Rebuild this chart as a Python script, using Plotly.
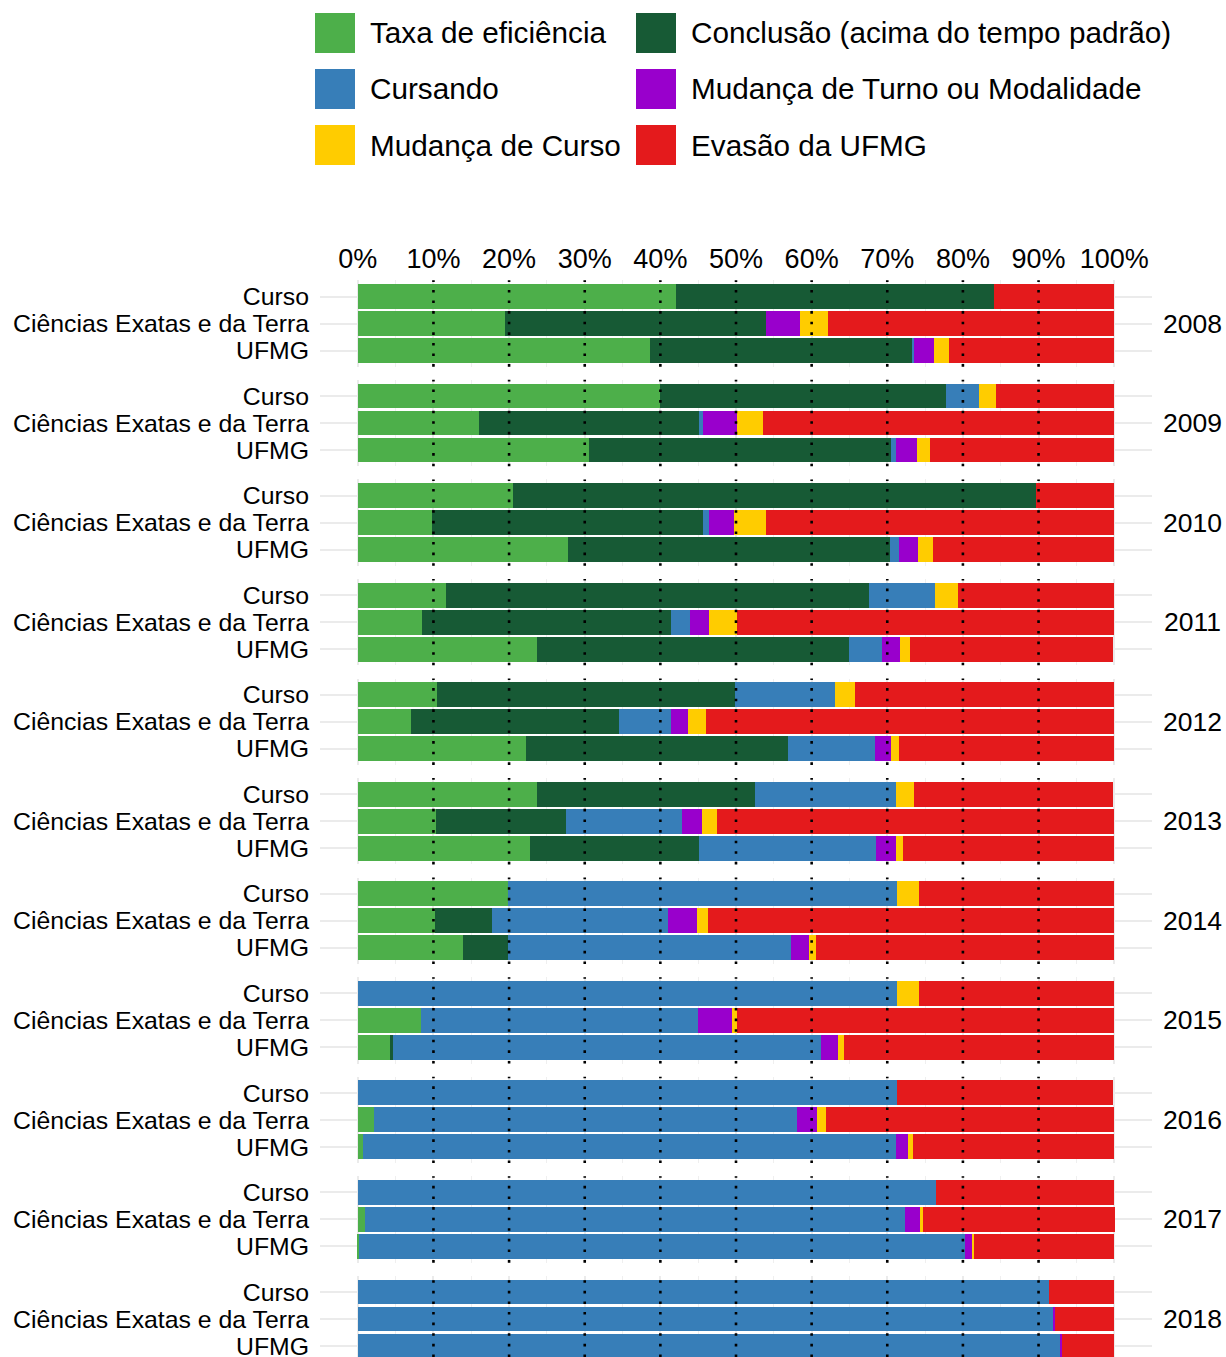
import plotly.graph_objects as go
from plotly.subplots import make_subplots

# ---------------- data ----------------
years = [2008, 2009, 2010, 2011, 2012, 2013, 2014, 2015, 2016, 2017, 2018]
groups = ["Curso", "Ciências Exatas e da Terra", "UFMG"]

series_names = [
    "Taxa de eficiência",
    "Conclusão (acima do tempo padrão)",
    "Cursando",
    "Mudança de Turno ou Modalidade",
    "Mudança de Curso",
    "Evasão da UFMG",
]
series_colors = ["#4DAF4A", "#175A35", "#377EB8", "#9900CC", "#FFCC00", "#E41A1C"]

# each entry: [Curso, Ciências Exatas e da Terra, UFMG] for one year (percent)
taxa = [
    [42.1, 19.4, 38.6], [39.9, 16.0, 30.5], [20.5, 9.8, 27.8], [11.6, 8.5, 23.7],
    [10.5, 7.0, 22.2], [23.7, 10.3, 22.7], [19.9, 10.2, 13.9], [0.0, 8.3, 4.3],
    [0.0, 2.2, 0.7], [0.0, 1.0, 0.1], [0.0, 0.0, 0.0],
]
conclusao = [
    [42.0, 34.5, 34.8], [37.8, 29.1, 40.0], [69.2, 35.8, 42.5], [56.0, 32.9, 41.2],
    [39.4, 27.5, 34.7], [28.8, 17.2, 22.4], [0.0, 7.5, 5.9], [0.0, 0.0, 0.4],
    [0.0, 0.0, 0.0], [0.0, 0.0, 0.0], [0.0, 0.0, 0.0],
]
cursando = [
    [0.0, 0.0, 0.1], [4.4, 0.6, 0.6], [0.0, 0.8, 1.3], [8.7, 2.5, 4.4],
    [13.2, 6.9, 11.5], [18.6, 15.4, 23.4], [51.4, 23.3, 37.5], [71.3, 36.7, 56.6],
    [71.3, 55.9, 70.5], [76.5, 71.3, 80.2], [91.4, 91.9, 92.9],
]
mud_turno = [
    [0.0, 4.6, 2.7], [0.0, 4.4, 2.8], [0.0, 3.3, 2.5], [0.0, 2.5, 2.4],
    [0.0, 2.3, 2.1], [0.0, 2.6, 2.7], [0.0, 3.9, 2.4], [0.0, 4.5, 2.2],
    [0.0, 2.6, 1.5], [0.0, 2.0, 0.9], [0.0, 0.3, 0.2],
]
mud_curso = [
    [0.0, 3.6, 2.0], [2.3, 3.5, 1.8], [0.0, 4.2, 2.0], [3.1, 3.7, 1.3],
    [2.6, 2.3, 1.0], [2.4, 2.0, 0.9], [2.9, 1.4, 0.9], [2.9, 0.6, 0.8],
    [0.0, 1.2, 0.7], [0.0, 0.4, 0.3], [0.0, 0.0, 0.0],
]
evasao = [
    [15.9, 37.9, 21.8], [15.6, 46.4, 24.3], [10.3, 46.1, 23.9], [20.6, 49.9, 26.9],
    [34.3, 54.0, 28.5], [26.4, 52.5, 27.9], [25.8, 53.7, 39.4], [25.8, 49.9, 35.7],
    [28.6, 38.1, 26.6], [23.5, 25.4, 18.5], [8.6, 7.8, 6.9],
]
series_values = [taxa, conclusao, cursando, mud_turno, mud_curso, evasao]

x_ticks = list(range(0, 101, 10))
x_tick_labels = [f"{v}%" for v in x_ticks]
x_minor = list(range(-5, 106, 10))
dotted_at = list(range(10, 91, 10))

# ---------------- layout geometry ----------------
W, H = 1226, 1357
ML, MR = 320, 74
PW = W - ML - MR
PANEL_TOP0 = 280.3
PANEL_STEP = 99.55
PANEL_H = 86.4
PX_PER_UNIT = PANEL_H / 3.2
FONT = "Liberation Sans, Arial, Helvetica, sans-serif"

def px_x(px):
    return (px - ML) / PW

def px_y(py):
    return 1 - py / H

n = len(years)
fig = make_subplots(rows=n, cols=1, shared_xaxes=True, vertical_spacing=0.005)

for r in range(n):
    for name, vals, col in zip(series_names, series_values, series_colors):
        fig.add_trace(
            go.Bar(
                x=vals[r], y=groups, orientation="h", name=name,
                marker=dict(color=col, line=dict(width=0)), width=0.92,
                showlegend=False,
                hovertemplate=f"{years[r]} %{{y}}<br>{name}: %{{x:.1f}}%<extra></extra>",
            ),
            row=r + 1, col=1,
        )

shapes = []
annotations = []
for r in range(n):
    top = PANEL_TOP0 + r * PANEL_STEP
    bot = min(top + PANEL_H, H)
    units = (bot - top) / PX_PER_UNIT
    ysfx = "" if r == 0 else str(r + 1)
    fig.layout[f"yaxis{ysfx}"].update(
        domain=[px_y(bot), px_y(top)],
        type="category", categoryorder="array", categoryarray=groups,
        tickmode="array", tickvals=groups, ticktext=groups,
        range=[-0.6 + units, -0.6],
        showgrid=True, gridcolor="#EBEBEB", gridwidth=2,
        zeroline=False, ticks="", showline=False,
        tickfont=dict(size=24.8, color="#000000", family=FONT),
        ticklabelstandoff=10, automargin=False, fixedrange=True,
    )
    fig.layout[f"xaxis{ysfx}"].update(
        range=[-5, 105], tickvals=x_ticks, ticktext=x_tick_labels,
        showgrid=True, gridcolor="#EBEBEB", gridwidth=1.6,
        minor=dict(tickvals=x_minor, showgrid=True, gridcolor="#EFEFEF", gridwidth=0.9),
        zeroline=False, ticks="", showline=False,
        showticklabels=(r == 0), side="top" if r == 0 else "bottom",
        tickfont=dict(size=27, color="#000000", family=FONT),
        ticklabelstandoff=6, automargin=False, fixedrange=True,
    )
    for v in dotted_at:
        shapes.append(dict(
            type="line", xref=f"x{ysfx}", yref=f"y{ysfx} domain",
            x0=v, x1=v, y0=0, y1=1, layer="above",
            line=dict(color="#000000", width=2.6, dash="2.6px,8px"),
        ))
    annotations.append(dict(
        text=str(years[r]), xref="paper", yref="paper",
        x=px_x(1192), y=px_y(top + PANEL_H / 2), xanchor="center", yanchor="middle",
        showarrow=False, font=dict(size=26.5, color="#000000", family=FONT),
    ))

# manual legend (2 columns x 3 rows, row-major like the reference)
leg_cols_key = [315, 636]
leg_rows_center = [33, 89, 145]
for i, (name, col) in enumerate(zip(series_names, series_colors)):
    rr, cc = divmod(i, 2)
    kx = leg_cols_key[cc]
    cy = leg_rows_center[rr]
    shapes.append(dict(
        type="rect", xref="paper", yref="paper",
        x0=px_x(kx), x1=px_x(kx + 40), y0=px_y(cy + 20), y1=px_y(cy - 20),
        fillcolor=col, line=dict(width=0), layer="above",
    ))
    annotations.append(dict(
        text=name, xref="paper", yref="paper",
        x=px_x(kx + 53), y=px_y(cy), xanchor="left", yanchor="middle",
        showarrow=False, font=dict(size=29.7, color="#000000", family=FONT),
    ))

fig.update_layout(
    width=W, height=H,
    margin=dict(l=ML, r=MR, t=0, b=0, pad=0),
    barmode="stack", bargap=0.08,
    plot_bgcolor="#FFFFFF", paper_bgcolor="#FFFFFF",
    font=dict(family=FONT, color="#000000"),
    showlegend=False,
    shapes=shapes, annotations=annotations,
)

fig.write_html(
    "out.html",
    config={"displayModeBar": False},
    post_script="document.body.style.margin='0';document.body.style.padding='0';document.body.style.overflow='hidden';",
)
